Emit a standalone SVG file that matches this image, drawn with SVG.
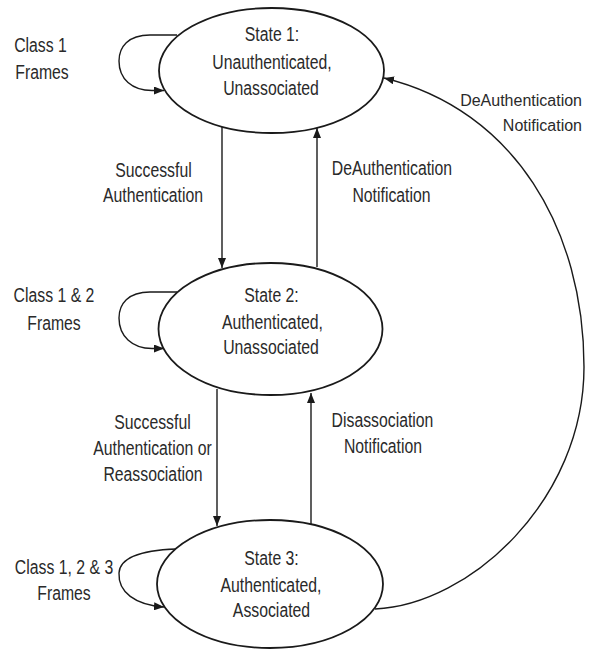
<svg xmlns="http://www.w3.org/2000/svg" width="591" height="650" viewBox="0 0 591 650">
<style>
  .st { fill: #ffffff; stroke: #1a1a1a; stroke-width: 1.8; }
  .t { font-family: "Liberation Sans", Arial, sans-serif; font-size: 20px; fill: #2a2a2a; text-anchor: middle; }
  .e { text-anchor: end; font-size: 16px; }
  .c { fill: none; stroke: #1a1a1a; stroke-width: 1.4; }
</style>
<defs>
  <marker id="ah" viewBox="0 0 10 8" refX="10" refY="4" markerWidth="10" markerHeight="8" markerUnits="userSpaceOnUse" orient="auto">
    <path d="M0,0 L10,4 L0,8 z" fill="#1a1a1a"/>
  </marker>
</defs>
<rect width="591" height="650" fill="#ffffff"/>

<g id="connectors">
  <path class="c" d="M177,35 L150,35 C128,35 119,47 119,61 C119,79 132,90.5 152,90.5 L164,90.5" marker-end="url(#ah)"/>
  <path class="c" d="M177,292 L150,292 C128,292 119,304 119,318 C119,336 132,348.5 152,348.5 L164,348.5" marker-end="url(#ah)"/>
  <path class="c" d="M176,549 C150,550 120,555 119,573 C118,592 135,605 164,607" marker-end="url(#ah)"/>
  <path class="c" d="M222,127 L222,268" marker-end="url(#ah)"/>
  <path class="c" d="M317,267 L317,128" marker-end="url(#ah)"/>
  <path class="c" d="M217,389 L217,526" marker-end="url(#ah)"/>
  <path class="c" d="M311,524 L311,393" marker-end="url(#ah)"/>
  <path class="c" d="M375,609 C470,605 584,500 584,367 C584,230 515,110 384,78" marker-end="url(#ah)"/>
</g>

<g id="labels">
  <text class="t" x="40.5" y="51.5" textLength="52.7" lengthAdjust="spacingAndGlyphs">Class 1</text>
  <text class="t" x="42" y="78.5" textLength="53.5" lengthAdjust="spacingAndGlyphs">Frames</text>
  <text class="t" x="54" y="301.5" textLength="80.8" lengthAdjust="spacingAndGlyphs">Class 1 &amp; 2</text>
  <text class="t" x="54" y="329.5" textLength="53.5" lengthAdjust="spacingAndGlyphs">Frames</text>
  <text class="t" x="64" y="573.5" textLength="98.4" lengthAdjust="spacingAndGlyphs">Class 1, 2 &amp; 3</text>
  <text class="t" x="64" y="599.5" textLength="53.5" lengthAdjust="spacingAndGlyphs">Frames</text>

  <text class="t" x="153.5" y="176.5" textLength="76.4" lengthAdjust="spacingAndGlyphs">Successful</text>
  <text class="t" x="153" y="201.5" textLength="100.1" lengthAdjust="spacingAndGlyphs">Authentication</text>
  <text class="t" x="392" y="174.5" textLength="120.3" lengthAdjust="spacingAndGlyphs">DeAuthentication</text>
  <text class="t" x="391.5" y="201.5" textLength="78.1" lengthAdjust="spacingAndGlyphs">Notification</text>

  <text class="t" x="152.5" y="428.5" textLength="76.4" lengthAdjust="spacingAndGlyphs">Successful</text>
  <text class="t" x="152.5" y="454.5" textLength="118.6" lengthAdjust="spacingAndGlyphs">Authentication or</text>
  <text class="t" x="153" y="480.5" textLength="99.2" lengthAdjust="spacingAndGlyphs">Reassociation</text>
  <text class="t" x="382.5" y="426.5" textLength="101.8" lengthAdjust="spacingAndGlyphs">Disassociation</text>
  <text class="t" x="383" y="452.5" textLength="78.1" lengthAdjust="spacingAndGlyphs">Notification</text>

  <text class="t e" x="582" y="106">DeAuthentication</text>
  <text class="t e" x="582" y="131">Notification</text>
</g>

<g id="state1">
  <ellipse class="st" cx="271.5" cy="70.5" rx="112.5" ry="62.5"/>
  <text class="t" x="272" y="40.5" textLength="54.5" lengthAdjust="spacingAndGlyphs">State 1:</text>
  <text class="t" x="272" y="69" textLength="119.4" lengthAdjust="spacingAndGlyphs">Unauthenticated,</text>
  <text class="t" x="271" y="94.5" textLength="95.7" lengthAdjust="spacingAndGlyphs">Unassociated</text>
</g>

<g id="state2">
  <ellipse class="st" cx="270.5" cy="329" rx="112" ry="66"/>
  <text class="t" x="271.5" y="301.5" textLength="54.5" lengthAdjust="spacingAndGlyphs">State 2:</text>
  <text class="t" x="272.5" y="328.5" textLength="101" lengthAdjust="spacingAndGlyphs">Authenticated,</text>
  <text class="t" x="271" y="353.5" textLength="95.7" lengthAdjust="spacingAndGlyphs">Unassociated</text>
</g>

<g id="state3">
  <ellipse class="st" cx="270" cy="584" rx="113" ry="64"/>
  <text class="t" x="271.5" y="564.5" textLength="54.5" lengthAdjust="spacingAndGlyphs">State 3:</text>
  <text class="t" x="271" y="591.5" textLength="101" lengthAdjust="spacingAndGlyphs">Authenticated,</text>
  <text class="t" x="271.5" y="616.5" textLength="77.3" lengthAdjust="spacingAndGlyphs">Associated</text>
</g>
</svg>
